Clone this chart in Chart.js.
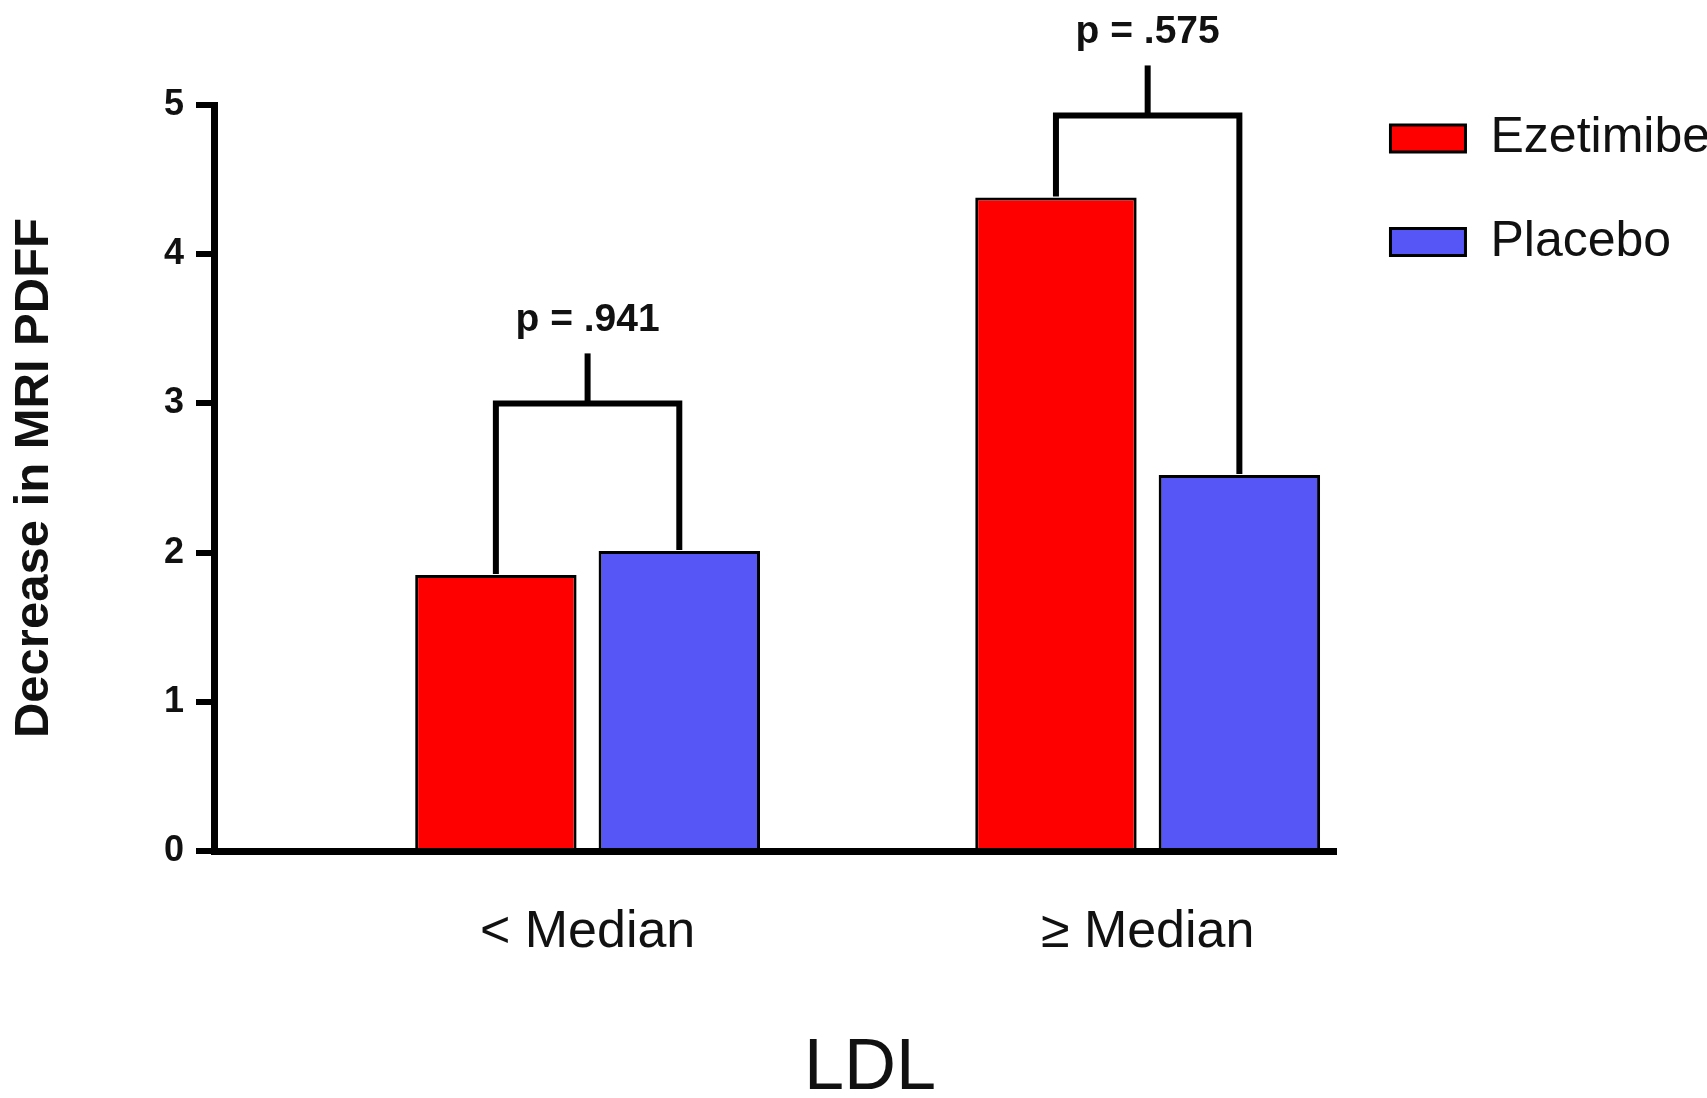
<!DOCTYPE html>
<html>
<head>
<meta charset="utf-8">
<script src="https://cdn.jsdelivr.net/npm/chart.js@4"></script>
<style>
  html, body { margin: 0; padding: 0; background: #fff; }
  #wrap { width: 1707px; height: 1098px; }
</style>
</head>
<body>
<div id="wrap"><canvas id="ldlChart" width="1707" height="1098"></canvas></div>
<script>
// data
const categories = ["< Median", "\u2265 Median"];
const ezetimibe = [1.85, 4.38];
const placebo = [2.01, 2.52];
const bracketTops = [3.0, 4.93];
const pLabels = ["p = .941", "p = .575"];

const FONT = "'Liberation Sans', Arial, sans-serif";

// p-value brackets over each pair of bars
const bracketPlugin = {
  id: "brackets",
  afterDraw(chart) {
    const ctx = chart.ctx;
    const red = chart.getDatasetMeta(0).data;
    const blue = chart.getDatasetMeta(1).data;
    const yScale = chart.scales.y;
    ctx.save();
    ctx.strokeStyle = "#000";
    ctx.lineWidth = 6;
    ctx.lineJoin = "miter";
    ctx.lineCap = "butt";
    ctx.fillStyle = "#111";
    ctx.font = "bold 39px " + FONT;
    ctx.textAlign = "center";
    ctx.textBaseline = "alphabetic";
    categories.forEach((c, i) => {
      const xl = red[i].x, xr = blue[i].x;
      const yb = yScale.getPixelForValue(bracketTops[i]);
      const xm = (xl + xr) / 2;
      ctx.beginPath();
      ctx.moveTo(xl, red[i].y - 1);
      ctx.lineTo(xl, yb);
      ctx.lineTo(xr, yb);
      ctx.lineTo(xr, blue[i].y - 1);
      ctx.stroke();
      ctx.beginPath();
      ctx.moveTo(xm, yb);
      ctx.lineTo(xm, yb - 50);
      ctx.stroke();
      ctx.fillText(pLabels[i], xm, yb - 72);
    });
    ctx.restore();
  }
};

const ldlChart = new Chart(document.getElementById("ldlChart"), {
  type: "bar",
  data: {
    datasets: [
      {
        label: "Ezetimibe",
        data: ezetimibe.map((v, i) => ({ x: i + 1, y: v })),
        backgroundColor: "#FF0000",
        borderColor: "#000",
        borderWidth: 3,
      },
      {
        label: "Placebo",
        data: placebo.map((v, i) => ({ x: i + 1, y: v })),
        backgroundColor: "#5656F6",
        borderColor: "#000",
        borderWidth: 3,
      },
    ],
  },
  options: {
    responsive: false,
    animation: false,
    categoryPercentage: 0.655,
    barPercentage: 0.88,
    layout: { padding: { left: 20, right: -13, top: 60, bottom: 0 } },
    scales: {
      x: {
        type: "linear",
        min: 0.333,
        max: 2.338,
        offset: false,
        z: 1,
        grid: { display: false, drawTicks: false, offset: false },
        border: { display: true, color: "#000", width: 7 },
        afterBuildTicks: (scale) => {
          scale.ticks = categories.map((c, i) => ({ value: i + 1 }));
        },
        ticks: {
          autoSkip: false,
          maxRotation: 0,
          padding: 50,
          color: "#111",
          font: { family: FONT, size: 52 },
          callback: (value) => categories[value - 1],
        },
      },
      y: {
        min: 0,
        max: 5,
        z: 1,
        afterFit: (scale) => {
          scale.paddingTop = 105;
        },
        grid: {
          drawOnChartArea: false,
          drawTicks: true,
          tickLength: 18,
          lineWidth: 6,
          color: "#000",
        },
        border: { display: true, color: "#000", width: 7 },
        ticks: {
          stepSize: 1,
          padding: 12,
          color: "#111",
          font: { family: FONT, size: 36, weight: "bold" },
        },
        title: {
          display: true,
          text: "Decrease in MRI PDFF",
          color: "#111",
          font: { family: FONT, size: 49, weight: "bold", lineHeight: 0.5 },
          padding: { top: 2, bottom: 105.5 },
        },
      },
    },
    plugins: {
      legend: {
        position: "right",
        align: "start",
        labels: {
          boxWidth: 75,
          boxHeight: 27,
          padding: 53.5,
          color: "#111",
          font: { family: FONT, size: 50 },
        },
      },
      title: {
        display: true,
        text: "LDL",
        position: "bottom",
        color: "#111",
        font: { family: FONT, size: 72, weight: "normal", lineHeight: 0.8 },
        padding: { top: 27, bottom: 0 },
      },
      tooltip: { enabled: false },
    },
  },
  plugins: [bracketPlugin],
});
</script>
</body>
</html>
